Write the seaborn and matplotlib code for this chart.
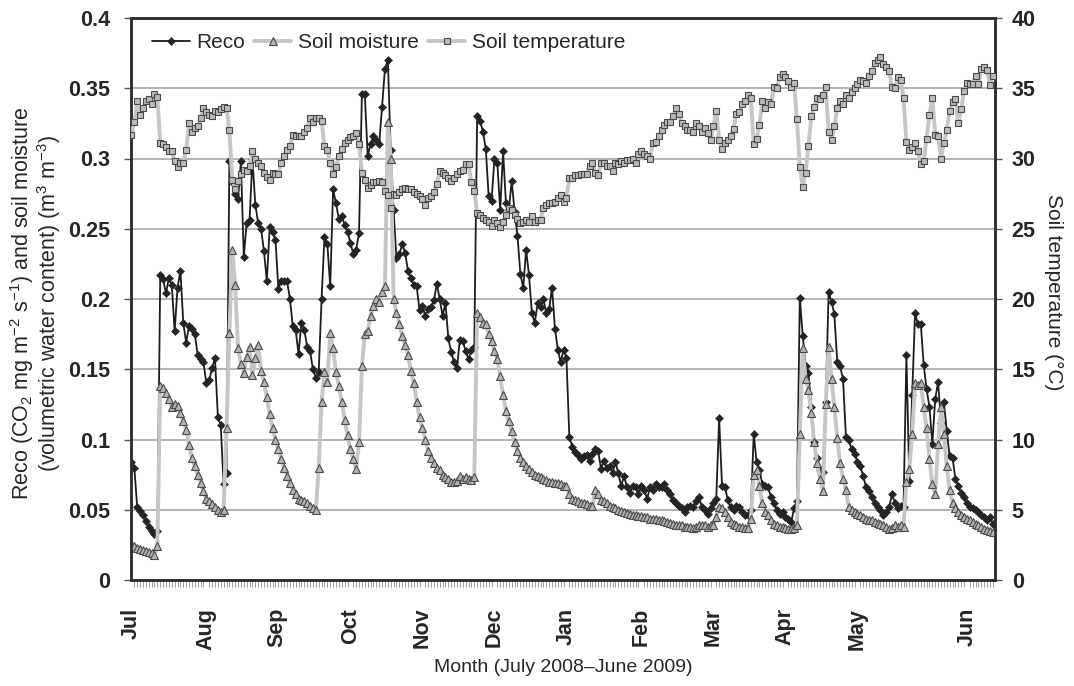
import numpy as np
import pandas as pd
import matplotlib
matplotlib.use('Agg')
import matplotlib.pyplot as plt
from matplotlib.lines import Line2D
import seaborn as sns

# Reco (CO2 mg m-2 s-1), one value per sampling day, Jul 2008 - Jun 2009
reco = [
    0.084, 0.080, 0.052, 0.049, 0.046, 0.042, 0.038, 0.035, 0.033, 0.035,
    0.217, 0.214, 0.204, 0.215, 0.210, 0.177, 0.208, 0.220, 0.183, 0.169,
    0.181, 0.179, 0.175, 0.160, 0.157, 0.155, 0.140, 0.142, 0.151, 0.158,
    0.116, 0.110, 0.068, 0.076,
    0.298, 0.283, 0.275, 0.271, 0.298, 0.230, 0.254, 0.256, 0.300, 0.267,
    0.254, 0.250, 0.234, 0.213, 0.251, 0.248, 0.242, 0.207, 0.213, 0.213,
    0.213, 0.200, 0.181, 0.178, 0.161, 0.183, 0.178, 0.166, 0.163, 0.150,
    0.144, 0.148, 0.200, 0.244, 0.239, 0.209, 0.278, 0.268, 0.257, 0.259,
    0.253, 0.248, 0.240, 0.232, 0.235, 0.247,
    0.346, 0.346, 0.302, 0.310, 0.316, 0.313, 0.310, 0.337, 0.364, 0.370,
    0.306, 0.263, 0.229, 0.232, 0.239, 0.233, 0.220, 0.215, 0.210, 0.209,
    0.192, 0.195, 0.188, 0.193, 0.194, 0.199, 0.211, 0.200, 0.188, 0.197,
    0.172, 0.162, 0.155, 0.151, 0.171, 0.170, 0.163, 0.157, 0.164, 0.166,
    0.330, 0.327, 0.319, 0.307, 0.273, 0.270, 0.300, 0.297, 0.263, 0.305,
    0.268, 0.264, 0.284, 0.262, 0.245, 0.218, 0.208, 0.235, 0.217, 0.190,
    0.183, 0.197, 0.194, 0.200, 0.190, 0.193, 0.208, 0.179, 0.164, 0.155,
    0.164, 0.158,
    0.102, 0.095, 0.091, 0.089, 0.086, 0.088, 0.089, 0.085, 0.090, 0.093,
    0.092, 0.079, 0.085, 0.080, 0.081, 0.076, 0.084, 0.076, 0.067, 0.074,
    0.066, 0.062, 0.067, 0.066, 0.061, 0.067, 0.064, 0.058, 0.066, 0.064,
    0.068, 0.066, 0.066, 0.068, 0.064, 0.061, 0.057, 0.055, 0.053, 0.051,
    0.0485, 0.052, 0.053, 0.052, 0.056, 0.059, 0.052, 0.050, 0.047, 0.051,
    0.055, 0.058, 0.115, 0.067, 0.066, 0.057, 0.052, 0.050, 0.053, 0.052,
    0.0485, 0.046, 0.046, 0.050, 0.104, 0.084, 0.078, 0.068, 0.067, 0.066,
    0.059, 0.055, 0.050, 0.047,
    0.0485, 0.045, 0.0437, 0.041, 0.051, 0.056, 0.201, 0.174, 0.152, 0.147,
    0.123, 0.098, 0.087, 0.078, 0.077, 0.127, 0.205, 0.198, 0.189, 0.155,
    0.152, 0.143, 0.102, 0.0995, 0.093, 0.090, 0.084, 0.081, 0.074, 0.066,
    0.063, 0.059, 0.055, 0.052, 0.050, 0.046, 0.0485, 0.052, 0.061, 0.055,
    0.051, 0.053, 0.052, 0.160, 0.0704, 0.132, 0.190, 0.182, 0.182, 0.153,
    0.136, 0.123, 0.097, 0.129, 0.141, 0.112, 0.127, 0.106, 0.088, 0.087,
    0.072, 0.067, 0.062, 0.059, 0.055, 0.052, 0.051, 0.050, 0.0485, 0.046,
    0.045, 0.0425, 0.045, 0.040,
]

# Soil moisture (m3 m-3)
soil_moisture = [
    0.0255, 0.024, 0.023, 0.022, 0.021, 0.0206, 0.020, 0.019, 0.018, 0.024,
    0.138, 0.137, 0.133, 0.129, 0.123, 0.125, 0.124, 0.119, 0.113, 0.107,
    0.096, 0.087, 0.081, 0.075, 0.069, 0.063, 0.058, 0.056, 0.054, 0.052,
    0.050, 0.0485, 0.050, 0.108,
    0.176, 0.235, 0.210, 0.165, 0.154, 0.147, 0.159, 0.166, 0.146, 0.158,
    0.167, 0.149, 0.141, 0.130, 0.118, 0.108, 0.0995, 0.093, 0.086, 0.080,
    0.074, 0.069, 0.064, 0.061, 0.058, 0.0566, 0.056, 0.0546, 0.053, 0.051,
    0.050, 0.080, 0.127, 0.148, 0.141, 0.176, 0.165, 0.148, 0.138, 0.127,
    0.114, 0.103, 0.093, 0.086, 0.079, 0.098,
    0.152, 0.175, 0.177, 0.188, 0.195, 0.200, 0.198, 0.205, 0.209, 0.326,
    0.300,
    0.200, 0.190, 0.182, 0.174, 0.167, 0.160, 0.149, 0.140, 0.127, 0.116,
    0.108, 0.0995, 0.092, 0.087, 0.083, 0.080, 0.078, 0.075, 0.073, 0.0716,
    0.070, 0.070, 0.0704, 0.074, 0.0716, 0.073, 0.072, 0.071, 0.073,
    0.190, 0.187, 0.183, 0.182, 0.175, 0.170, 0.163, 0.157, 0.145, 0.132,
    0.120, 0.113, 0.106, 0.098, 0.092, 0.087, 0.084, 0.081, 0.079, 0.077,
    0.075, 0.074, 0.073, 0.0716, 0.071, 0.070, 0.070, 0.069, 0.069, 0.068,
    0.067, 0.0667,
    0.061, 0.058, 0.057, 0.056, 0.055, 0.0546, 0.054, 0.053, 0.053, 0.064,
    0.061, 0.057, 0.056, 0.0546, 0.053, 0.052, 0.051, 0.050, 0.049, 0.0485,
    0.048, 0.047, 0.0465, 0.046, 0.0457, 0.0454, 0.045, 0.0445, 0.0437, 0.0437,
    0.0435, 0.043, 0.0425, 0.042, 0.041, 0.0405, 0.040, 0.0395, 0.039, 0.039,
    0.038, 0.0376, 0.0376, 0.037, 0.0376, 0.039, 0.039, 0.039, 0.038, 0.039,
    0.039, 0.045, 0.052, 0.051, 0.0485, 0.045, 0.041, 0.040, 0.039, 0.038,
    0.0376, 0.037, 0.037, 0.0437, 0.075, 0.078, 0.067, 0.0546, 0.0485, 0.046,
    0.0425, 0.040, 0.039, 0.038,
    0.0376, 0.037, 0.0364, 0.0364, 0.037, 0.039, 0.104, 0.165, 0.143, 0.135,
    0.119, 0.098, 0.083, 0.072, 0.063, 0.125, 0.166, 0.143, 0.123, 0.101,
    0.083, 0.072, 0.064, 0.052, 0.050, 0.0485, 0.047, 0.046, 0.045, 0.0437,
    0.043, 0.0425, 0.041, 0.0405, 0.040, 0.039, 0.0376, 0.0364, 0.037, 0.039,
    0.038, 0.039, 0.038, 0.070, 0.079, 0.104, 0.140, 0.139, 0.140, 0.123,
    0.108, 0.086, 0.068, 0.061, 0.097, 0.123, 0.104, 0.081, 0.064, 0.055,
    0.051, 0.0485, 0.046, 0.045, 0.0437, 0.0425, 0.041, 0.040, 0.039, 0.0376,
    0.0364, 0.0357, 0.035, 0.034,
]

# Soil temperature (degC)
soil_temp = [
    31.7, 32.6, 34.1, 33.1, 33.6, 34.1, 34.2, 33.9, 34.6, 34.4,
    31.1, 31.0, 30.8, 30.5, 30.5, 29.8, 29.4, 29.7, 29.7, 30.6,
    32.5, 31.9, 32.2, 32.3, 32.9, 33.6, 33.3, 33.1, 33.0, 33.4,
    33.3, 33.5, 33.7, 33.6,
    32.0, 28.5, 27.8, 28.4, 28.9, 29.2, 29.1, 29.5, 30.5, 30.0,
    29.7, 29.5, 29.0, 28.7, 28.5, 29.0, 28.9, 28.9, 29.7, 30.2,
    30.6, 30.9, 31.7, 31.6, 31.6, 31.6, 31.9, 32.2, 32.9, 32.6,
    32.9, 32.9, 32.7, 30.9, 30.6, 29.7, 28.9, 29.4, 30.2, 30.7,
    31.1, 31.3, 31.5, 31.6, 31.8, 31.0,
    29.0, 28.5, 27.9, 28.1, 28.3, 28.3, 28.4, 28.3, 27.7, 27.4,
    26.5, 27.5, 27.4, 27.6, 27.8, 27.9, 27.8, 27.8, 27.6, 27.5,
    27.3, 27.1, 26.7, 27.2, 27.3, 27.6, 28.2, 29.1, 29.0, 28.8,
    28.6, 28.4, 28.6, 28.9, 29.1, 29.2, 29.6, 29.6, 28.3, 27.7,
    26.1, 26.0, 25.8, 25.6, 25.5, 25.2, 25.6, 25.4, 25.1, 25.5,
    26.0, 26.5, 26.3, 26.0, 25.7, 25.4, 25.5, 25.6, 25.5, 25.9,
    25.5, 25.6, 25.6, 26.5, 26.7, 26.8, 26.8, 26.9, 27.2, 27.4,
    26.9, 27.2,
    28.6, 28.6, 28.8, 28.8, 28.9, 28.9, 28.9, 29.5, 29.7, 29.0,
    28.8, 29.7, 29.7, 29.5, 29.5, 29.1, 29.7, 29.6, 29.8, 29.7,
    29.9, 29.9, 30.0, 29.7, 30.3, 30.5, 30.3, 30.2, 30.0, 31.1,
    31.2, 31.6, 32.0, 32.4, 32.6, 32.6, 33.0, 33.6, 33.2, 32.5,
    32.3, 32.0, 32.0, 31.9, 32.5, 32.3, 31.9, 32.2, 31.8, 31.3,
    32.3, 33.4, 31.3, 30.7, 31.1, 31.3, 31.6, 32.1, 33.2, 33.3,
    33.9, 34.1, 34.5, 34.3, 31.0, 31.4, 32.4, 34.1, 33.6, 34.0,
    33.9, 35.1, 35.0, 35.8,
    36.0, 35.8, 35.5, 35.1, 35.4, 32.8, 29.4, 28.0, 29.0, 30.9,
    33.0, 33.7, 34.3, 34.2, 34.5, 35.1, 31.9, 31.3, 32.3, 33.6,
    34.1, 33.9, 34.5, 34.3, 34.7, 35.0, 35.3, 35.6, 35.5, 35.4,
    35.9, 36.2, 36.8, 37.0, 37.2, 36.7, 36.5, 36.2, 35.1, 35.0,
    35.8, 35.6, 34.3, 31.2, 30.6, 30.8, 31.1, 30.5, 29.6, 29.8,
    31.4, 33.1, 34.3, 31.7, 31.6, 30.0, 31.1, 32.0, 33.4, 34.0,
    34.2, 32.5, 33.5, 34.8, 35.4, 35.3, 35.3, 35.9, 35.3, 36.4,
    36.5, 36.3, 35.2, 35.9,
]

month_labels = ['Jul', 'Aug', 'Sep', 'Oct', 'Nov', 'Dec',
                'Jan', 'Feb', 'Mar', 'Apr', 'May', 'Jun']
month_pos = [0, 26, 50.5, 76, 101, 126, 151, 177, 202, 227, 252, 290]
left_ticks = [0, 0.05, 0.1, 0.15, 0.2, 0.25, 0.3, 0.35, 0.4]
left_ticklabels = ['0', '0.05', '0.1', '0.15', '0.2', '0.25', '0.3', '0.35', '0.4']
right_ticks = [0, 5, 10, 15, 20, 25, 30, 35, 40]

sns.set_style("white")
plt.rcParams['font.family'] = ['Liberation Sans', 'DejaVu Sans']
plt.rcParams['mathtext.fontset'] = 'custom'
plt.rcParams['mathtext.rm'] = 'Liberation Sans'
plt.rcParams['mathtext.it'] = 'Liberation Sans:italic'
plt.rcParams['mathtext.bf'] = 'Liberation Sans:bold'

tick_font = ['Liberation Sans Narrow', 'DejaVu Sans Condensed', 'Liberation Sans']

df = pd.DataFrame({
    'day': np.arange(len(reco)),
    'reco': reco,
    'moisture': soil_moisture,
    'temp': soil_temp,
})

W, H = 1074, 686
fig = plt.figure(figsize=(W / 100, H / 100), dpi=100)
ax = fig.add_axes([131 / W, 1 - 580 / H, 864 / W, 562 / H])
ax2 = ax.twinx()

dark = '#1c1c1c'
light = '#c6c6c6'
edge = '#4a4a4a'

reco_style = dict(color=dark, linewidth=1.3, marker='D', markersize=3.7,
                  markerfacecolor='#242424', markeredgecolor='#242424',
                  markeredgewidth=0.4)
moist_style = dict(color=light, linewidth=2.8, marker='^', markersize=6.2,
                   markerfacecolor='#b3b3b3', markeredgecolor=edge,
                   markeredgewidth=0.8)
temp_style = dict(color=light, linewidth=2.8, marker='s', markersize=5,
                  markerfacecolor='#bababa', markeredgecolor=edge,
                  markeredgewidth=0.8)

sns.lineplot(data=df, x='day', y='reco', ax=ax, estimator=None, zorder=3, **reco_style)
sns.lineplot(data=df, x='day', y='moisture', ax=ax, estimator=None, zorder=4, **moist_style)
sns.lineplot(data=df, x='day', y='temp', ax=ax2, estimator=None, zorder=4, **temp_style)

# axes ranges
ax.set_xlim(-0.15, 299.75)
ax.set_ylim(0, 0.4)
ax2.set_ylim(0, 40)

ax.set_axisbelow(True)
ax.yaxis.grid(True, color='#a8a8a8', linewidth=1.2)
ax.xaxis.grid(False)
ax2.grid(False)

for a in (ax, ax2):
    for s in a.spines.values():
        s.set_color('#2e2e2e')
        s.set_linewidth(1.8)
        s.set_visible(True)

ax.set_yticks(left_ticks)
ax.set_yticklabels(left_ticklabels, fontfamily=tick_font, fontweight='bold', fontsize=15.5)
ax.tick_params(axis='y', which='major', direction='out', length=5, width=1,
               color='#555555', pad=10, left=True)

ax2.set_yticks(right_ticks)
ax2.set_yticklabels([str(t) for t in right_ticks], fontfamily=tick_font,
                    fontweight='bold', fontsize=15.5)
ax2.tick_params(axis='y', which='major', direction='out', length=5, width=1,
                color='#555555', pad=7, right=True)

ax.set_xticks(month_pos)
ax.set_xticklabels(month_labels, rotation=90, fontfamily=tick_font,
                   fontweight='bold', fontsize=15.5, va='top', ha='center')
ax.set_xticks(np.arange(len(reco)), minor=True)
ax.tick_params(axis='x', which='major', length=0, pad=20, bottom=True)
ax.tick_params(axis='x', which='minor', direction='out', length=5, width=0.7,
               color='#9a9a9a', bottom=True)

ax.set_xlabel('')
ax.set_ylabel('')
ax2.set_ylabel('')

# axis titles
fig.text(22 / W, 1 - 303 / H,
         r'Reco (CO$\mathregular{_2}$ mg m$\mathregular{^{-2}}$ s$\mathregular{^{-1}}$) and soil moisture',
         rotation=90, ha='center', va='center', fontsize=15.5)
fig.text(49 / W, 1 - 303 / H,
         r'(volumetric water content) (m$\mathregular{^3}$ m$\mathregular{^{-3}}$)',
         rotation=90, ha='center', va='center', fontsize=15.5)
fig.text(1054 / W, 1 - 292 / H, 'Soil temperature (°C)', rotation=270,
         ha='center', va='center', fontsize=15)
fig.text(563 / W, 1 - 667 / H, 'Month (July 2008\u2013June 2009)',
         ha='center', va='center', fontsize=14)

# legend
handles = [Line2D([], [], **reco_style),
           Line2D([], [], **moist_style),
           Line2D([], [], **temp_style)]
labels = ['Reco', 'Soil moisture', 'Soil temperature']
ax2.legend(handles, labels, ncol=3, loc='upper left',
           bbox_to_anchor=(21 / 864, 1 - 15 / 562), frameon=False,
           fontsize=15, handlelength=1.8, handletextpad=0.3,
           columnspacing=0.45, borderaxespad=0, borderpad=0)

fig.savefig('out.png', dpi=100)
